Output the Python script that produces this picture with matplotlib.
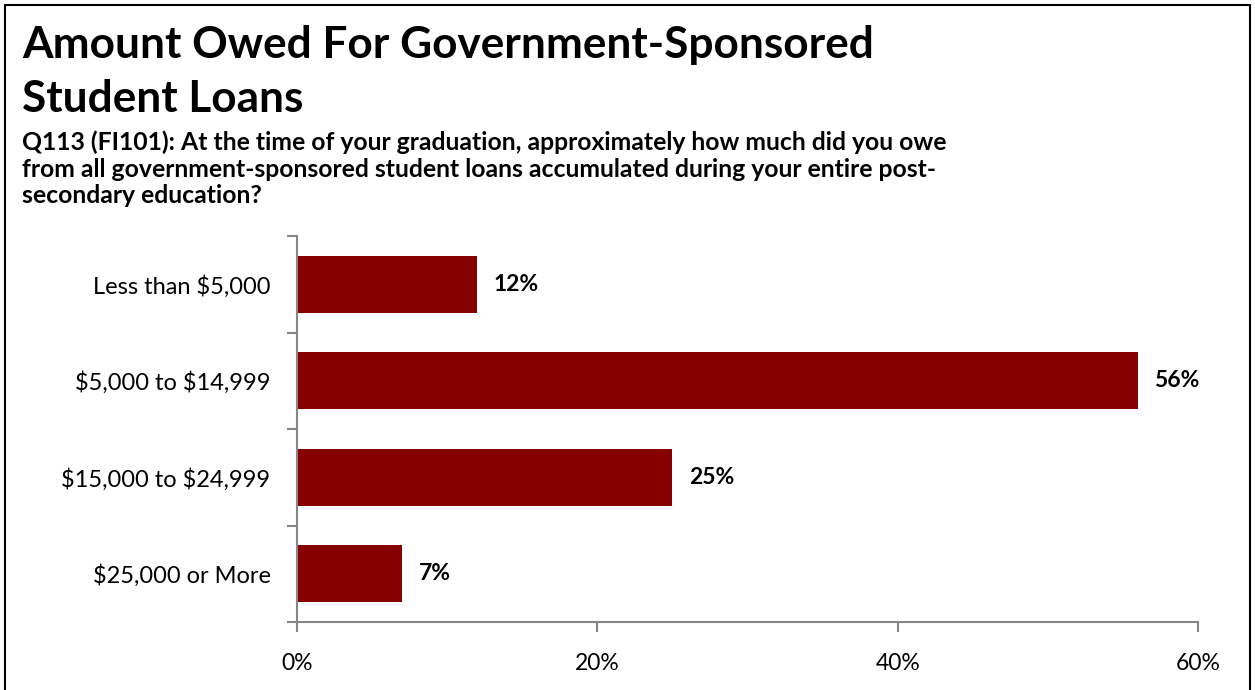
import matplotlib
matplotlib.use("Agg")
import matplotlib.pyplot as plt
from matplotlib.patches import Rectangle

plt.rcParams["text.parse_math"] = False

categories = ["Less than $5,000", "$5,000 to $14,999", "$15,000 to $24,999", "$25,000 or More"]
values = [12, 56, 25, 7]
x_ticks = [0, 20, 40, 60]
x_tick_labels = ["0%", "20%", "40%", "60%"]

title_lines = ["Amount Owed For Government-Sponsored", "Student Loans"]
subtitle_lines = [
    "Q113 (FI101): At the time of your graduation, approximately how much did you owe",
    "from all government-sponsored student loans accumulated during your entire post-",
    "secondary education?",
]

BAR_COLOR = "#860000"
AXIS_COLOR = "#868686"
FONT = ["Lato", "DejaVu Sans"]
W, H = 1255, 690

fig = plt.figure(figsize=(W / 100, H / 100), dpi=100)
fig.patch.set_facecolor("white")

# outer frame
fig.add_artist(Rectangle((5 / W, -0.05), (1250 - 5) / W, 1 - 5 / H + 0.05,
                         transform=fig.transFigure, fill=False, edgecolor="black",
                         linewidth=1.5))

ax = fig.add_axes([297 / W, 1 - 622 / H, (1198 - 297) / W, (622 - 236) / H])

y = list(range(len(categories)))
ax.barh(y, values, height=0.59, color=BAR_COLOR)
ax.set_ylim(len(categories) - 0.5, -0.5)
ax.set_xlim(0, 60)

for yi, v in zip(y, values):
    ax.text(v + 1.1, yi, f"{v}%", va="center", ha="left", fontsize=16.5,
            fontweight="bold", family=FONT)

ax.set_xticks(x_ticks)
ax.set_xticklabels(x_tick_labels, family=FONT, fontsize=16.5)
ax.set_yticks(y)
ax.set_yticklabels(categories, family=FONT, fontsize=17)
ax.tick_params(axis="y", length=0, pad=19)
ax.tick_params(axis="x", length=7, width=1.5, color=AXIS_COLOR, direction="out", pad=15)

# category boundary ticks on the value axis
ax.set_yticks([i - 0.5 for i in range(len(categories) + 1)], minor=True)
ax.tick_params(axis="y", which="minor", length=7, width=1.5, color=AXIS_COLOR, direction="out")

for side in ["top", "right"]:
    ax.spines[side].set_visible(False)
for side in ["left", "bottom"]:
    ax.spines[side].set_color(AXIS_COLOR)
    ax.spines[side].set_linewidth(1.5)

for line, base in zip(title_lines, [58, 112]):
    fig.text(22 / W, 1 - base / H, line, ha="left", va="baseline", fontsize=31.8,
             fontweight="bold", family=FONT)
for line, base in zip(subtitle_lines, [150, 177, 203]):
    fig.text(22 / W, 1 - base / H, line, ha="left", va="baseline", fontsize=17.8,
             fontweight="bold", family=FONT)

fig.savefig("out.png", dpi=100, facecolor="white")
